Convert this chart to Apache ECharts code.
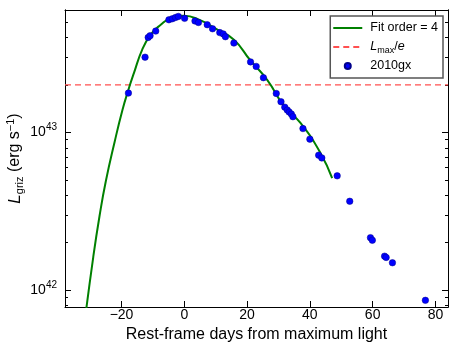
<!DOCTYPE html>
<html>
<head>
<meta charset="utf-8">
<script src="https://cdn.jsdelivr.net/npm/echarts@6/dist/echarts.min.js"></script>
<style>
  html, body { margin: 0; padding: 0; background: #fff; }
  #main { width: 463px; height: 350px; }
</style>
</head>
<body>
<div id="main"></div>
<script>
// observed points of SN 2010gx (rest-frame days, L in erg/s)
var obsDays = [-17.8, -12.5, -11.5, -10.9, -9.1, -4.9, -3.8, -2.8, -1.9, 0.1, 3.4, 4.5, 7.3, 9.0,
  11.3, 12.4, 13.1, 15.8, 21.1, 22.9, 25.2, 29.3, 30.8, 32.0, 32.8, 33.4, 34.1, 34.6, 37.8, 40.0,
  42.8, 43.8, 48.7, 52.7, 59.3, 59.9, 63.8, 64.3, 66.3, 76.8];
var obsLum = [1.78e43, 3.01e43, 4.02e43, 4.12e43, 4.41e43, 5.20e43, 5.28e43, 5.38e43, 5.46e43, 5.31e43,
  5.11e43, 5.00e43, 4.84e43, 4.56e43, 4.31e43, 4.23e43, 4.06e43, 3.70e43, 2.81e43, 2.63e43,
  2.23e43, 1.77e43, 1.57e43, 1.45e43, 1.39e43, 1.35e43, 1.31e43, 1.26e43, 1.06e43, 9.08e42,
  7.18e42, 6.90e42, 5.31e42, 3.66e42, 2.15e42, 2.07e42, 1.64e42, 1.61e42, 1.49e42, 8.6e41];

// polynomial fit curve
var fitDays = [-31.6, -29.0, -27.0, -25.0, -22.2, -19.7, -17.8, -16.0, -13.4, -10.7, -7.5, -4.4, -0.1,
  5.2, 10.0, 15.8, 21.0, 26.4, 32.0, 37.0, 43.4, 47.1];
var fitLum = [6.61e41, 1.62e42, 2.95e42, 4.90e42, 8.71e42, 1.39e43, 1.87e43, 2.40e43, 3.36e43, 4.18e43,
  4.84e43, 5.33e43, 5.52e43, 5.15e43, 4.57e43, 3.88e43, 2.88e43, 2.16e43, 1.45e43, 1.15e43, 7.40e42, 5.13e42];

// L_max / e level
var lmaxDays = [-38, 84];
var lmaxLum = [2.01e43, 2.01e43];

var xTicks = [-20, 0, 20, 40, 60, 80];
var yTicks = [1e42, 1e43];
var xMin = -38, xMax = 84;
var yMin = 7.8e41, yMax = 6.0e43;

var lg = function (v) { return Math.log10(v); };
var yMajor = yTicks.map(lg);
var yMinor = [];
[1e41, 1e42, 1e43].forEach(function (d) {
  for (var k = 2; k <= 9; k++) {
    var v = lg(k * d);
    if (v > lg(yMin) && v < lg(yMax)) yMinor.push(v);
  }
});

var font = 'Liberation Sans';
var chart = echarts.init(document.getElementById('main'));

function yAxisDef(pos, ticks, len, labels) {
  return {
    type: 'value', position: pos, min: lg(yMin), max: lg(yMax),
    axisLine: { show: true, onZero: false, lineStyle: { color: '#000', width: 1 } },
    axisTick: { show: true, inside: true, length: len, customValues: ticks, lineStyle: { color: '#000' } },
    axisLabel: labels ? {
      show: true, customValues: yMajor, margin: 8,
      formatter: function (v) { return '{b|10}{s|' + Math.round(v) + '}'; },
      rich: {
        b: { fontFamily: font, fontSize: 14, color: '#000', lineHeight: 20 },
        s: { fontFamily: font, fontSize: 10, color: '#000', lineHeight: 10, verticalAlign: 'top' }
      }
    } : { show: false },
    splitLine: { show: false }
  };
}

var option = {
  animation: false,
  grid: { left: 65, right: 15, top: 10, bottom: 43, outerBoundsMode: 'none', containLabel: false },
  xAxis: [{
    type: 'value', position: 'bottom', min: xMin, max: xMax,
    name: 'Rest-frame days from maximum light', nameLocation: 'middle', nameGap: 20,
    nameMoveOverlap: false,
    nameTextStyle: { fontFamily: font, fontSize: 16, color: '#000' },
    axisLine: { show: true, onZero: false, lineStyle: { color: '#000' } },
    axisTick: { inside: true, length: 6, customValues: xTicks, lineStyle: { color: '#000' } },
    axisLabel: { customValues: xTicks, fontFamily: font, fontSize: 14, color: '#000', margin: 1,
      formatter: function (v) { return String(v).replace('-', '\u2212'); } },
    splitLine: { show: false }
  }, {
    type: 'value', position: 'top', min: xMin, max: xMax,
    axisLine: { show: true, onZero: false, lineStyle: { color: '#000' } },
    axisTick: { inside: true, length: 6, customValues: xTicks, lineStyle: { color: '#000' } },
    axisLabel: { show: false },
    splitLine: { show: false }
  }],
  yAxis: [
    Object.assign(yAxisDef('left', yMajor, 6, true), {
      name: '{i|L}{sub|griz} (erg s{sup|\u22121})',
      nameLocation: 'middle', nameRotate: 90, nameGap: 40, nameMoveOverlap: false,
      nameTextStyle: {
        fontFamily: font, fontSize: 16, color: '#000',
        rich: {
          i: { fontFamily: font, fontSize: 17, fontStyle: 'italic', color: '#000', lineHeight: 20 },
          sub: { fontFamily: font, fontSize: 11, color: '#000', lineHeight: 10, verticalAlign: 'bottom' },
          sup: { fontFamily: font, fontSize: 11, color: '#000', lineHeight: 10, verticalAlign: 'top' }
        }
      }
    }),
    yAxisDef('left', yMinor, 3, false),
    yAxisDef('right', yMajor, 6, false),
    yAxisDef('right', yMinor, 3, false)
  ],
  legend: {
    orient: 'vertical', right: 20, top: 16,
    backgroundColor: '#fff', borderColor: '#555', borderWidth: 1.5, borderRadius: 0,
    padding: [4, 5, 4, 2], itemGap: 3, itemWidth: 29, itemHeight: 6,
    textStyle: {
      fontFamily: font, fontSize: 12.5, color: '#000', padding: [0, 0, 0, 3], lineHeight: 16,
      rich: {
        i: { fontFamily: font, fontSize: 12.5, fontStyle: 'italic', color: '#000' },
        sub: { fontFamily: font, fontSize: 9, color: '#000', verticalAlign: 'bottom', lineHeight: 8 }
      }
    },
    formatter: function (name) {
      if (name === 'Lmax/e') return '{i|L}{sub|max}/{i|e}';
      return name;
    },
    data: [
      { name: 'Fit order = 4', itemStyle: { opacity: 0 } },
      { name: 'Lmax/e', itemStyle: { opacity: 0 } },
      { name: '2010gx', icon: 'circle' }
    ]
  },
  series: [{
    name: 'Lmax/e', type: 'line', showSymbol: false, symbol: 'none',
    data: lmaxDays.map(function (d, i) { return [d, lg(lmaxLum[i])]; }),
    lineStyle: { color: '#ff5050', width: 1.2, type: [6, 4] },
    itemStyle: { color: '#ff5050' }
  }, {
    name: 'Fit order = 4', type: 'line', showSymbol: false, symbol: 'none',
    smooth: 0.5, clip: true,
    data: fitDays.map(function (d, i) { return [d, lg(fitLum[i])]; }),
    lineStyle: { color: '#008000', width: 2 },
    itemStyle: { color: '#008000' }
  }, {
    name: '2010gx', type: 'scatter', symbol: 'circle', symbolSize: 6.5,
    data: obsDays.map(function (d, i) { return [d, lg(obsLum[i])]; }),
    itemStyle: { color: '#0000ff', borderColor: '#00008b', borderWidth: 0.5, opacity: 1 },
    z: 5
  }]
};
chart.setOption(option);
</script>
</body>
</html>
